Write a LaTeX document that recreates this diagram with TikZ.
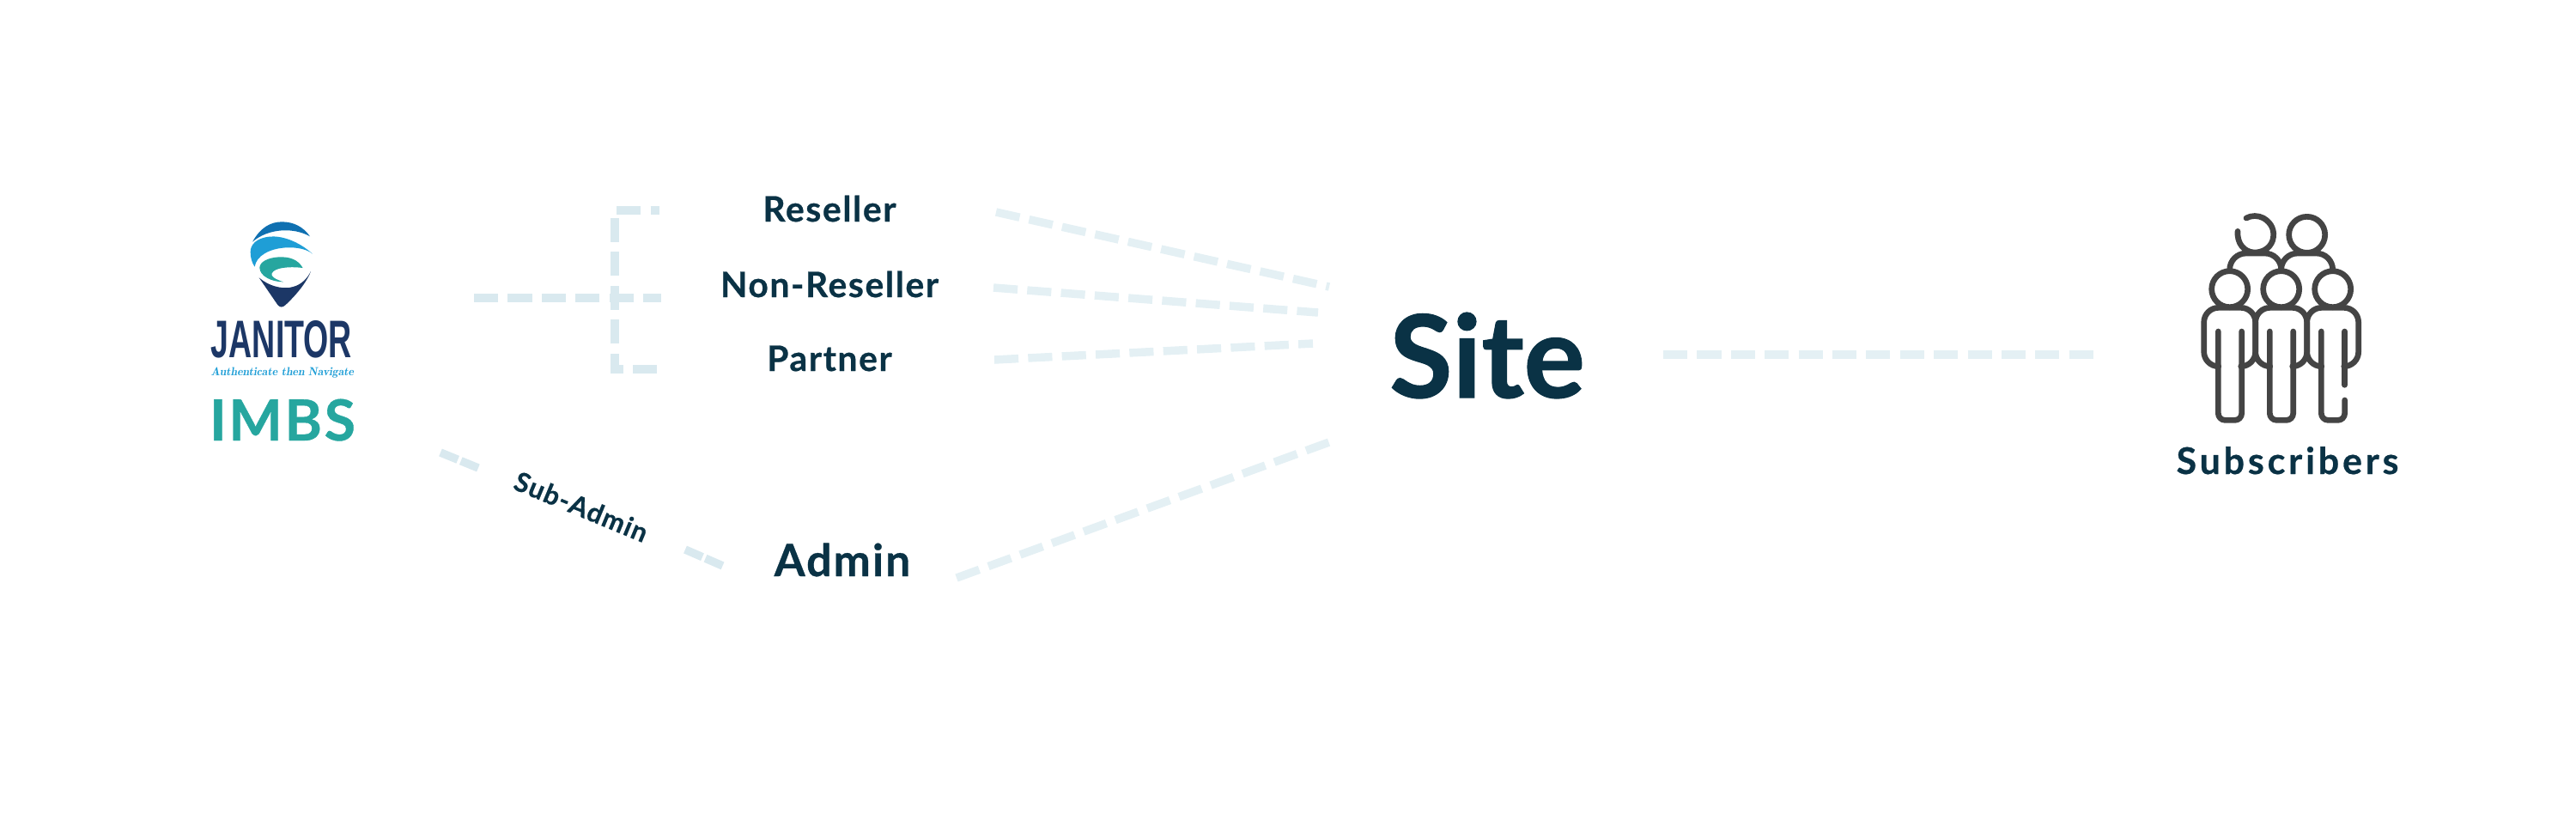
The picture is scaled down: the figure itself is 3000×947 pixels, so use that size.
\documentclass[tikz,border=0pt]{standalone}
\usepackage{fontspec}
\setmainfont{Lato}[BoldFeatures={FakeBold=0.9}]
\newfontfamily\spacedfont[LetterSpace=4,BoldFeatures={FakeBold=0.6}]{Lato}
\newfontfamily\widefont[LetterSpace=9,BoldFeatures={FakeBold=0.6}]{Lato}
\newfontfamily\brandfont{Liberation Sans}
\usetikzlibrary{positioning}
\definecolor{inkblue}{HTML}{0A3245}
\definecolor{linkblue}{HTML}{D9E9EF}
\definecolor{paleblue}{HTML}{E4F0F4}
\definecolor{teal}{HTML}{26A69F}
\definecolor{navy}{HTML}{1C3766}
\definecolor{midblue}{HTML}{1F9ED6}
\definecolor{deepblue}{HTML}{0F70B1}
\definecolor{icongray}{HTML}{444444}
\tikzset{
    x=0.01cm, y=-0.01cm, % one unit is one pixel of the reference
    rolenode/.style={ % Sets the properties for each role
        inner sep=0pt,
        anchor=base,
        text=inkblue,
        font=\spacedfont\bfseries\fontsize{11.6pt}{14pt}\selectfont
    },
    linkline/.style={ % Dashes of the connectors
        line width=2.7pt,
        dash pattern=on 8pt off 3.2pt
    },
    shortlink/.style={ % Two dashes only, next to the rotated label
        dash pattern=on 6.2pt off 1.1pt
    },
    every edge/.style={ % Sets the properties for each connector
        draw,
        linkline
    },
    person/.style={ % Sets the properties for the icon strokes
        draw=icongray,
        line width=1.9pt,
        line cap=round,
        line join=round
    }
}
\begin{document}
\begin{tikzpicture}
        \useasboundingbox (0,0) rectangle (3000,947);
        % logo
        \begin{scope}[shift={(200,230)},x=0.01cm/3,y=-0.01cm/3]
            \fill[deepblue] (282,155) .. controls (310,105) and (345,85) .. (385,85)
                            .. controls (425,85) and (460,102) .. (483,136)
                            .. controls (430,105) and (340,105) .. (282,155) -- cycle;
            \fill[midblue]  (492,197) .. controls (440,150) and (380,132) .. (340,137)
                            .. controls (295,142) and (275,165) .. (275,190)
                            .. controls (275,210) and (280,228) .. (290,242)
                            .. controls (295,205) and (340,178) .. (400,175)
                            .. controls (440,173) and (475,182) .. (492,197) -- cycle;
            \fill[teal]     (458,246) .. controls (440,215) and (410,207) .. (375,208)
                            .. controls (335,210) and (308,225) .. (307,245)
                            .. controls (307,275) and (350,295) .. (390,295)
                            .. controls (360,285) and (345,275) .. (350,265)
                            .. controls (358,245) and (410,240) .. (458,246) -- cycle;
            \fill[navy]     (305,280) .. controls (340,310) and (380,318) .. (410,315)
                            .. controls (445,310) and (470,290) .. (486,258)
                            .. controls (470,300) and (430,345) .. (398,375)
                            .. controls (388,385) and (378,385) .. (370,375) -- cycle;
        \end{scope}
        \node[inner sep=0pt, anchor=base, text=navy]    (janitor)   at (328,416)
            {\resizebox{1.64cm}{.43cm}{\brandfont\bfseries JANITOR}};
        \node[inner sep=0pt, anchor=base, text=midblue] (tagline)   at (329,437)
            {\resizebox{1.66cm}{!}{\fontfamily{lmr}\bfseries\itshape Authenticate then Navigate}};
        \node[rolenode, text=teal, font=\spacedfont\bfseries\fontsize{18.8pt}{22pt}\selectfont]
                                                        (imbs)      at (329,513) {IMBS};
        % roles
        \node[rolenode]                                 (reseller)  at (966,258) {Reseller};
        \node[rolenode]                                 (nonreseller) at (966,346) {Non-Reseller};
        \node[rolenode]                                 (partner)   at (966,432) {Partner};
        \node[rolenode, font=\spacedfont\bfseries\fontsize{14.7pt}{17pt}\selectfont]
                                                        (admin)     at (981,671) {Admin};
        \node[rolenode, anchor=center, rotate=-22.5, font=\spacedfont\bfseries\fontsize{8.9pt}{10pt}\selectfont]
                                                        (subadmin)  at (677,590) {Sub-Admin};
        % site and subscribers
        \node[rolenode, font=\bfseries\fontsize{38pt}{44pt}\selectfont]
                                                        (site)      at (1732,463) {Site};
        \node[rolenode, font=\widefont\bfseries\fontsize{12.2pt}{14pt}\selectfont]
                                                        (subscribers) at (2664,552) {Subscribers};
        % people icon
        \begin{scope}[shift={(2530,230)},x=0.01cm/3,y=-0.01cm/3]
            \foreach \hx in {200,380,560} \draw[person] (\hx,320) circle[radius=0.21cm];
            \draw[person] (470,130) circle[radius=0.21cm];
            \draw[person] (258,72) .. controls (275,62) and (300,62) .. (318,72)
                          .. controls (345,88) and (360,115) .. (350,150)
                          .. controls (340,180) and (310,193) .. (285,192)
                          .. controls (250,190) and (225,160) .. (228,118);
            \draw[person, rounded corners=0.19cm]
                (200,250) -- (200,195) -- (380,195) -- (380,250);
            \draw[person, rounded corners=0.19cm]
                (380,250) -- (380,195) -- (560,195) -- (560,250);
            \foreach \dx in {0,180,360}
                \draw[person, rounded corners=0.17cm]
                    (160+\dx,590) -- (110+\dx,590) -- (110+\dx,385)
                    -- (290+\dx,385) -- (290+\dx,590) -- (242+\dx,590);
            \foreach \dx in {0,180}
                \draw[person, rounded corners=0.08cm]
                    (160+\dx,468) -- (160+\dx,778) -- (242+\dx,778) -- (242+\dx,468);
            \draw[person, rounded corners=0.08cm]
                (602,708) -- (602,778) -- (520,778) -- (520,468);
            \draw[person] (602,468) -- (602,655);
        \end{scope}
        % connectors
        \draw[linkblue]
            ([shift={(224,-69)}]janitor.base)  edge ([shift={(-196,1)}]nonreseller.base)
            ([shift={(184,14)}]imbs.base)      edge[shortlink] ([shift={(-120,-45)}]subadmin.center)
            ([shift={(121,50)}]subadmin.center) edge[shortlink] ([shift={(-137,-11)}]admin.base)
        ;
        \draw[linkblue, linkline]
            ([shift={(-201,-2)}]partner.base) -- ([shift={(-250,-2)}]partner.base)
            |- ([shift={(-198,-13)}]reseller.base);
        \draw[paleblue]
            ([shift={(194,-11)}]reseller.base)    edge ([shift={(-184,-129)}]site.base)
            ([shift={(191,-11)}]nonreseller.base) edge ([shift={(-197,-99)}]site.base)
            ([shift={(192,-13)}]partner.base)     edge ([shift={(-203,-63)}]site.base)
            ([shift={(133,2)}]admin.base)         edge ([shift={(-176,49)}]site.base)
            ([shift={(205,-50)}]site.base)        edge ([shift={(-222,-139)}]subscribers.base)
        ;
\end{tikzpicture}
\end{document}
